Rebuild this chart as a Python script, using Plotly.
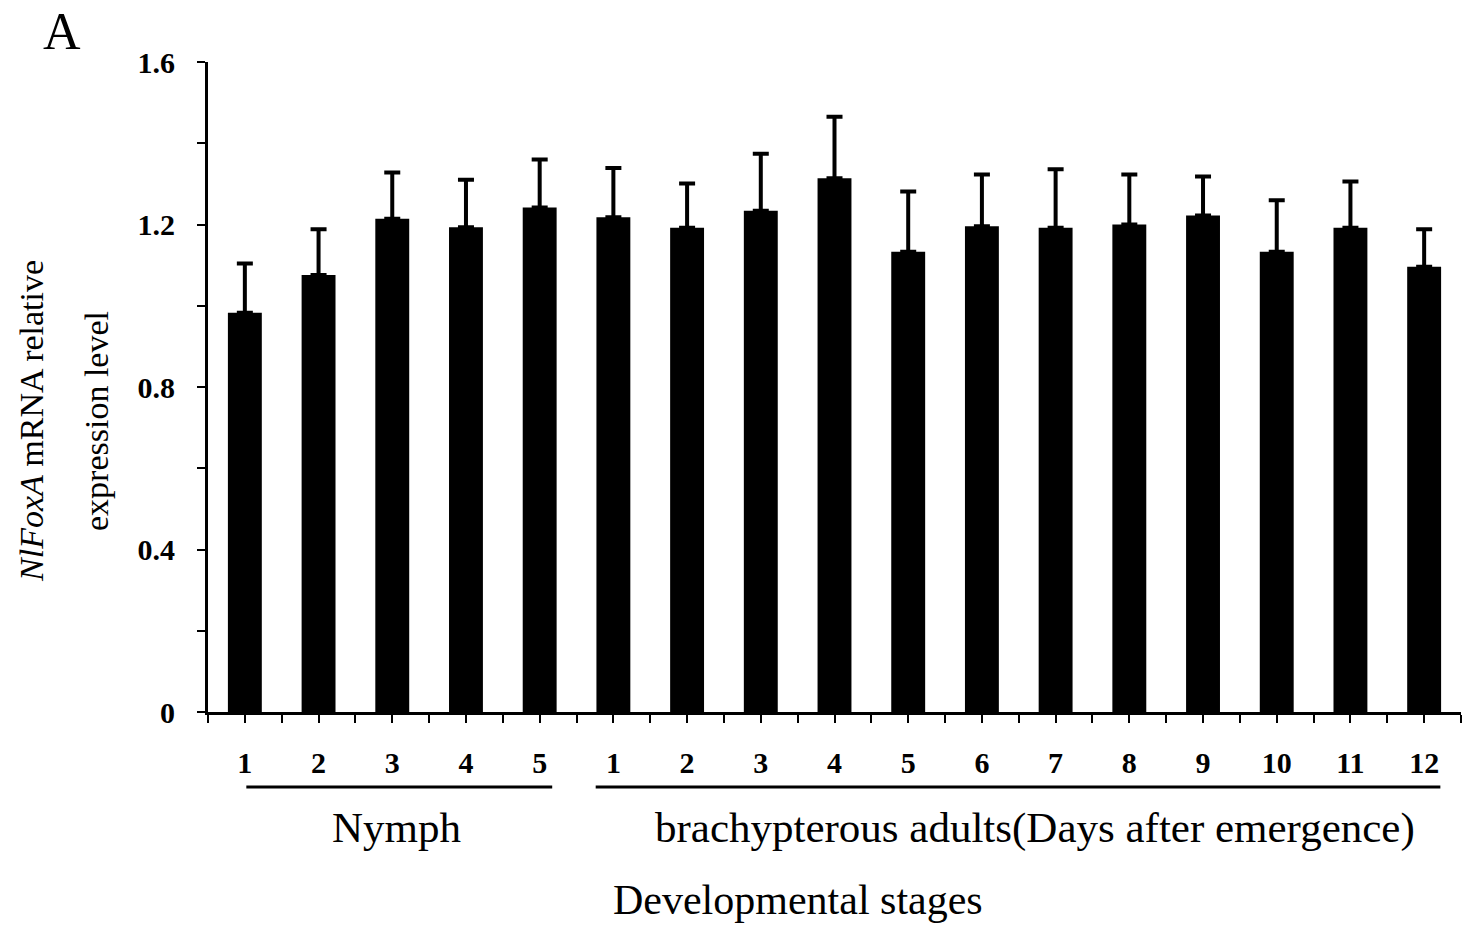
import plotly.graph_objects as go

# ---- data ----
stage_labels = ["1", "2", "3", "4", "5",
                "1", "2", "3", "4", "5", "6", "7", "8", "9", "10", "11", "12"]
groups = ["Nymph"] * 5 + ["brachypterous adults(Days after emergence)"] * 12
expression = [0.983, 1.076, 1.214, 1.193, 1.242,
              1.218, 1.192, 1.234, 1.314, 1.133, 1.196, 1.192, 1.200, 1.222, 1.133, 1.192, 1.096]
error_upper = [0.121, 0.112, 0.114, 0.117, 0.118,
               0.121, 0.109, 0.140, 0.151, 0.148, 0.127, 0.144, 0.123, 0.096, 0.127, 0.114, 0.092]

FONT = "Times New Roman, Liberation Serif, serif"

x_pos = list(range(len(expression)))

fig = go.Figure()
fig.add_trace(go.Bar(
    x=x_pos, y=expression, width=0.46,
    marker=dict(color="black", line=dict(width=0)),
    error_y=dict(type="data", array=error_upper, arrayminus=[0] * len(error_upper),
                 symmetric=False, color="black", thickness=4, width=8),
    showlegend=False,
))

# group bracket lines and labels
group_names = []
for g in groups:
    if g not in group_names:
        group_names.append(g)
line_y = -0.1154
label_offsets = {"Nymph": 0.06, "brachypterous adults(Days after emergence)": 0.22}
for g in group_names:
    idx = [i for i, gg in enumerate(groups) if gg == g]
    start, end = min(idx), max(idx)
    if g == "Nymph":
        x0, x1 = start + 0.02, end + 0.17
    else:
        x0, x1 = start - 0.24, end + 0.22
    fig.add_shape(type="line", xref="x", yref="paper", x0=x0, x1=x1, y0=line_y, y1=line_y,
                  line=dict(color="black", width=3))
    fig.add_annotation(x=(start + end) / 2 + label_offsets[g], y=-0.178, xref="x", yref="paper",
                       text=g, showarrow=False, yanchor="middle", xanchor="center",
                       font=dict(family=FONT, size=43, color="black"))

fig.add_annotation(x=(798 - 208) / 1253, y=-0.289, xref="paper", yref="paper",
                   text="Developmental stages", showarrow=False, yanchor="middle",
                   font=dict(family=FONT, size=42, color="black"))

# y-axis title (two lines)
fig.add_annotation(x=(32 - 208) / 1253, y=0.4477, xref="paper", yref="paper",
                   text="<i>NlFoxA</i> mRNA relative", textangle=-90, showarrow=False,
                   xanchor="center", yanchor="middle",
                   font=dict(family=FONT, size=34, color="black"))
fig.add_annotation(x=(97 - 208) / 1253, y=0.4477, xref="paper", yref="paper",
                   text="expression level", textangle=-90, showarrow=False,
                   xanchor="center", yanchor="middle",
                   font=dict(family=FONT, size=34, color="black"))

# panel letter
fig.add_annotation(x=(62 - 208) / 1253, y=(712 - 32) / 650, xref="paper", yref="paper",
                   text="A", showarrow=False, xanchor="center", yanchor="middle",
                   font=dict(family=FONT, size=52, color="black"))

fig.update_layout(
    width=1462, height=926,
    margin=dict(l=208, r=1, t=62, b=214),
    paper_bgcolor="white", plot_bgcolor="white",
    bargap=0.54,
    xaxis=dict(
        range=[-0.5, len(expression) - 0.5],
        tickvals=x_pos, ticktext=[f"<b>{s}</b>" for s in stage_labels],
        ticks="outside", ticklen=8, tickwidth=2, tickcolor="black",
        showline=True, linecolor="black", linewidth=3,
        showgrid=False, zeroline=False,
        tickfont=dict(family=FONT, size=30, color="black"),
        ticklabelstandoff=14,
        minor=dict(tickvals=[i - 0.5 for i in range(len(expression) + 1)],
                   ticks="outside", ticklen=8, tickwidth=2, tickcolor="black", showgrid=False),
    ),
    yaxis=dict(
        range=[0, 1.6],
        tickvals=[0, 0.4, 0.8, 1.2, 1.6],
        ticktext=["<b>0</b>", "<b>0.4</b>", "<b>0.8</b>", "<b>1.2</b>", "<b>1.6</b>"],
        ticks="outside", ticklen=8, tickwidth=2, tickcolor="black",
        showline=True, linecolor="black", linewidth=3,
        showgrid=False, zeroline=False,
        tickfont=dict(family=FONT, size=30, color="black"),
        ticklabelstandoff=16,
        minor=dict(dtick=0.2, tick0=0, ticks="outside", ticklen=8, tickwidth=2,
                   tickcolor="black", showgrid=False),
    ),
)

fig.write_html("out.html")
